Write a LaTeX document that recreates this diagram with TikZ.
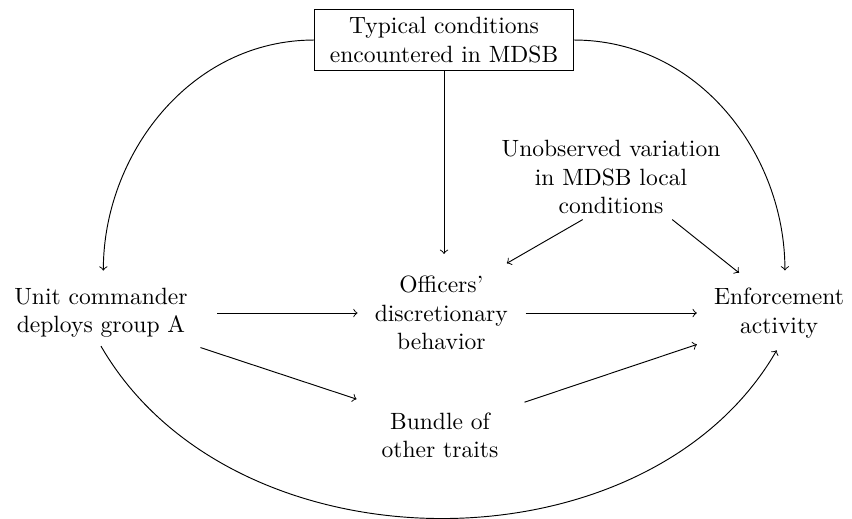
\documentclass[tikz,border=0pt]{standalone}
\usetikzlibrary{positioning}

\begin{document}
\begin{tikzpicture}[>=to,
    every node/.style={align=center},
    condbox/.style={draw, inner xsep=6.4pt}]

    \useasboundingbox (0,0) rectangle (12.716,-7.731);

    \node[condbox] (cond) at (6.627,-0.597) {Typical conditions\\encountered in MDSB};
    \node (unit) at (1.507,-4.672) {Unit commander\\deploys group A};
    \node (off) at (6.587,-4.672) {Officers'\\discretionary\\behavior};
    \node (enf) at (11.627,-4.672) {Enforcement\\activity};
    \node (unobs) at (9.119,-2.642) {Unobserved variation\\in MDSB local\\conditions};
    \node (bundle) at (6.567,-6.5) {Bundle of\\other traits};

    % from the conditions box
    \draw[->, shorten >=6pt] (cond.south) -- (cond.south |- off.north);
    \draw[->, shorten >=4pt] (cond.west) to[out=180, in=90] ([xshift=1pt]unit.north);
    \draw[->, shorten >=4pt] (cond.east) to[out=0, in=90] ([xshift=2.5pt]enf.north);

    % unobserved variation
    \draw[->] ([xshift=-12pt, yshift=1pt]unobs.south) -- ([xshift=-4pt, yshift=2pt]off.north east);
    \draw[->] ([xshift=26pt, yshift=1pt]unobs.south) -- ([xshift=-17pt, yshift=3pt]enf.north);

    % main chain
    \draw[->, shorten <=9pt, shorten >=3.8pt] (unit.east) -- (off.west);
    \draw[->, shorten <=4pt, shorten >=3.8pt] (off.east) -- (enf.west);
    \draw[->, shorten <=2pt, shorten >=7.5pt] (unit.south east) -- (bundle.north west);
    \draw[->, shorten <=8pt, shorten >=4pt] ([yshift=-1.5pt]bundle.north east) -- ([yshift=2pt]enf.south west);

    % direct path
    \draw[->, shorten >=2pt] (unit.south) to[out=-60, in=-120] (enf.south);
\end{tikzpicture}
\end{document}
